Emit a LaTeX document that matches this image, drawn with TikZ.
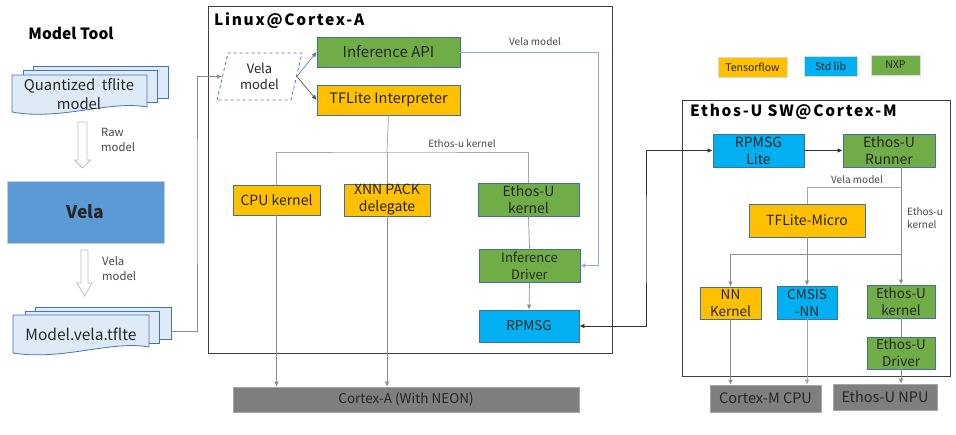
\documentclass[tikz,border=0pt]{standalone}
\usepackage{fontspec}
\setmainfont{Noto Sans CJK SC}
\newfontfamily\ttlfont[LetterSpace=11]{Noto Sans CJK SC}
\usetikzlibrary{arrows.meta,shapes.geometric,calc}
\definecolor{cgreen}{HTML}{70AD47}
\definecolor{cyellow}{HTML}{FFC000}
\definecolor{cblue}{HTML}{00B0F0}
\definecolor{cvela}{HTML}{5B9BD5}
\definecolor{cbar}{HTML}{7F7F7F}
\definecolor{cborder}{HTML}{41719C}
\definecolor{cdocfill}{HTML}{DEEBF7}
\definecolor{cdocline}{HTML}{4472C4}
\definecolor{cline}{HTML}{8C8C8C}
\definecolor{clight}{HTML}{A6A6A6}
\definecolor{cvm}{HTML}{8FAADC}
\definecolor{ctext}{HTML}{262626}
\begin{document}
\begin{tikzpicture}[x=1pt,y=-1pt,
  box/.style={draw=cborder,line width=0.8pt,inner sep=0pt,align=center,text=ctext,font=\fontsize{14}{17}\selectfont},
  gbox/.style={box,fill=cgreen},
  ybox/.style={box,fill=cyellow},
  bbox/.style={box,fill=cblue},
  hw/.style={fill=cbar,draw=clight,line width=0.6pt,inner sep=0pt,text=ctext,font=\fontsize{14}{16}\selectfont},
  frame/.style={draw=black!75,line width=1pt,inner sep=0pt},
  ttl/.style={font=\ttlfont\bfseries\fontsize{15.5}{18}\selectfont,inner sep=0pt,text=black},
  small/.style={font=\fontsize{10}{12}\selectfont,inner sep=0pt,text=ctext!85,align=left},
  conn/.style={draw=cline,line width=0.7pt},
  lconn/.style={draw=clight,line width=0.7pt},
  arr/.style={-{Latex[length=5pt,width=4.5pt]}},
  darr/.style={{Latex[length=5pt,width=4.5pt]}-{Latex[length=5pt,width=4.5pt]}},
  doc/.style={fill=cdocfill,draw=cdocline,line width=0.8pt},
  hollow/.style={fill=white,draw=black!25,line width=0.8pt}
]
\useasboundingbox (0,0) rectangle (956,434);

% ---------- Model tool column ----------
\node[inner sep=0pt,text=black,font=\bfseries\fontsize{15.5}{18}\selectfont] (mt) at (71,33) {Model Tool};

% quantized model documents
\draw[doc] (33,66) rectangle (168,98);
\draw[doc] (23,70) rectangle (157,102);
\draw[doc] (12,75) -- (147,75) -- (147,107) .. controls (110,100) and (60,121) .. (12,112) -- cycle;
\node[align=center,inner sep=0pt,text=ctext,font=\fontsize{14.8}{19.5}\selectfont] (qm) at (79,94) {Quantized\ \ tflite\\model};

% hollow arrow 1
\draw[hollow] (78,122) -- (87,122) -- (87,160) -- (90.5,160) -- (82.5,168) -- (74.5,160) -- (78,160) -- cycle;
\node[small,font=\fontsize{11.3}{15}\selectfont,anchor=north west] (rawl) at (101,128) {Raw\\model};

% Vela box
\node[fill=cvela,draw=black!20,line width=0.8pt,minimum width=157pt,minimum height=62pt,inner sep=0pt,font=\bfseries\fontsize{17.5}{20}\selectfont,text=ctext] (vela) at (85.5,212) {Vela};

% hollow arrow 2
\draw[hollow] (81,250) -- (88,250) -- (88,283) -- (92,283) -- (84.5,296) -- (77,283) -- (81,283) -- cycle;
\node[small,font=\fontsize{11.3}{15}\selectfont,anchor=north west] (vml) at (102,256) {Vela\\model};

% vela tflite documents
\draw[doc] (35,307) rectangle (171,339);
\draw[doc] (25,311) rectangle (159,343);
\draw[doc] (13,315) -- (149,315) -- (149,347) .. controls (112,340) and (62,361) .. (13,353) -- cycle;
\node[inner sep=0pt,text=ctext,font=\fontsize{15.5}{17}\selectfont] (vt) at (81,334) {Model.vela.tflte};
\coordinate (d2r) at (171,331);
\coordinate (c197) at (197,200);

% ---------- Linux@Cortex-A ----------
\node[frame,minimum width=404pt,minimum height=347pt] (lin) at (410,179.5) {};
\node[ttl,anchor=west] (lint) at (214,21) {Linux@Cortex-A};

\node[trapezium,trapezium left angle=76,trapezium right angle=104,trapezium stretches=true,
      draw=cdocline,dashed,line width=0.8pt,minimum width=85pt,minimum height=47pt,inner sep=0pt,
      align=center,text=ctext,font=\fontsize{13}{16.5}\selectfont] (velam) at (259.5,76.5) {Vela\\model};

\node[gbox,minimum width=143pt,minimum height=30pt,font=\fontsize{15}{17}\selectfont] (api) at (388.5,52) {Inference API};
\node[ybox,minimum width=143pt,minimum height=30pt,font=\fontsize{14.5}{17}\selectfont] (tfl) at (388.5,100) {TFLite Interpreter};
\node[ybox,minimum width=87pt,minimum height=30pt] (cpu) at (276.5,200) {CPU kernel};
\node[ybox,minimum width=86pt,minimum height=32pt] (xnn) at (387,200) {XNN PACK\\delegate};
\node[gbox,minimum width=101pt,minimum height=33pt] (eku) at (528.5,199.5) {Ethos-U\\kernel};
\node[gbox,minimum width=101pt,minimum height=33pt,font=\fontsize{13}{17}\selectfont] (drv) at (529.5,265.5) {Inference\\Driver};
\node[bbox,minimum width=100pt,minimum height=32pt,font=\fontsize{13.5}{16}\selectfont] (rp) at (529,326) {RPMSG};
\node[hw,minimum width=346pt,minimum height=25pt,font=\fontsize{13.5}{16}\selectfont] (bar) at (406,399.5) {Cortex-A (With NEON)};

\node[small] (vml2) at (535,42) {Vela model};
\node[small] (ekl) at (462,144) {Ethos-u kernel};
\coordinate (vm1) at (598,52);
\coordinate (j1) at (387,152);

% connectors Linux side
\draw[conn,arr] (d2r) -| (c197) |- (velam.west);
\draw[draw=cdocline,line width=0.6pt,-{Latex[length=5pt,width=4.5pt]}] (velam.east) -- (api.west);
\draw[draw=black!70,line width=0.6pt,arr] (velam.east) -- (tfl.west);
\draw[draw=cvm,line width=0.8pt,-{Latex[length=5pt,width=4.5pt]},color=cvm] (api.east) -- (vm1) |- (drv.east);
\draw[lconn] (tfl.south) -- (j1);
\draw[lconn] (cpu.north) |- (j1) -| (eku.north);
\draw[lconn] (j1) -- (xnn.north);
\draw[conn,arr] (cpu.south) -- (cpu.south |- bar.north);
\draw[conn,arr] (xnn.south) -- (xnn.south |- bar.north);
\draw[conn] (eku.south) -- (drv.north);
\draw[conn,arr] (drv.south) -- (rp.north);

% ---------- Legend ----------
\node[ybox,draw=black!15,minimum width=69pt,minimum height=20pt,font=\fontsize{10.5}{12}\selectfont] (lt) at (752.5,67) {Tensorflow};
\node[bbox,draw=black!15,minimum width=53pt,minimum height=20pt,font=\fontsize{10.5}{12}\selectfont] (ls) at (830.5,66) {Std lib};
\node[gbox,draw=black!15,minimum width=49pt,minimum height=20pt,font=\fontsize{10.5}{12}\selectfont] (ln) at (895.5,65) {NXP};

% ---------- Ethos-U SW@Cortex-M ----------
\node[frame,minimum width=268pt,minimum height=276pt] (eth) at (816,238) {};
\node[ttl,anchor=west] (etht) at (690,112) {Ethos-U SW@Cortex-M};

\node[bbox,minimum width=91pt,minimum height=33pt] (rplite) at (758.5,150.5) {RPMSG\\Lite};
\node[gbox,minimum width=92pt,minimum height=33pt] (runner) at (889,150.5) {Ethos-U\\Runner};
\node[ybox,minimum width=116pt,minimum height=33pt] (tfm) at (807,220.5) {TFLite-Micro};
\node[ybox,minimum width=61pt,minimum height=32pt,font=\fontsize{13.5}{17}\selectfont] (nnk) at (730.5,303) {NN\\Kernel};
\node[bbox,minimum width=60pt,minimum height=33pt,font=\fontsize{13.5}{17}\selectfont] (cmsis) at (807,302.5) {CMSIS\\-NN};
\node[gbox,minimum width=68pt,minimum height=33pt,font=\fontsize{13.5}{17}\selectfont] (ekm) at (901,301.5) {Ethos-U\\kernel};
\node[gbox,minimum width=68pt,minimum height=32pt,font=\fontsize{13.5}{17}\selectfont] (drvm) at (901,353) {Ethos-U\\Driver};
\node[hw,minimum width=111pt,minimum height=27pt,font=\fontsize{14.5}{16}\selectfont] (cpum) at (765.5,398.5) {Cortex-M CPU};
\node[hw,minimum width=104pt,minimum height=26pt,font=\fontsize{14.5}{16}\selectfont] (npu) at (885,397) {Ethos-U NPU};

\node[small] (vml3) at (857,179.5) {Vela model};
\node[small,anchor=north west,font=\fontsize{10}{13}\selectfont] (ekl2) at (907,207) {Ethos-u\\kernel};
\coordinate (j2) at (902,187);
\coordinate (j3) at (902,254);
\coordinate (c646) at (646,240);

% connectors Cortex-M side
\draw[draw=black!80,line width=0.7pt,darr] (rp.east) -| (c646) |- (rplite.west);
\draw[draw=black!80,line width=0.7pt,arr] (rplite.east) -- (runner.west);
\draw[conn,arr] (ekm.north |- runner.south) -- (ekm.north);
\draw[lconn] (j2) -| (tfm.north);
\draw[conn,arr] (j3) -| (nnk.north);
\draw[conn,arr] (tfm.south) -- (cmsis.north);
\draw[conn,arr] (nnk.south) -- (nnk.south |- cpum.north);
\draw[lconn,arr] (cmsis.south) -- (cmsis.south |- cpum.north);
\draw[conn] (ekm.south) -- (drvm.north);
\draw[conn,arr] (drvm.south) -- (drvm.south |- npu.north);
\end{tikzpicture}
\end{document}
